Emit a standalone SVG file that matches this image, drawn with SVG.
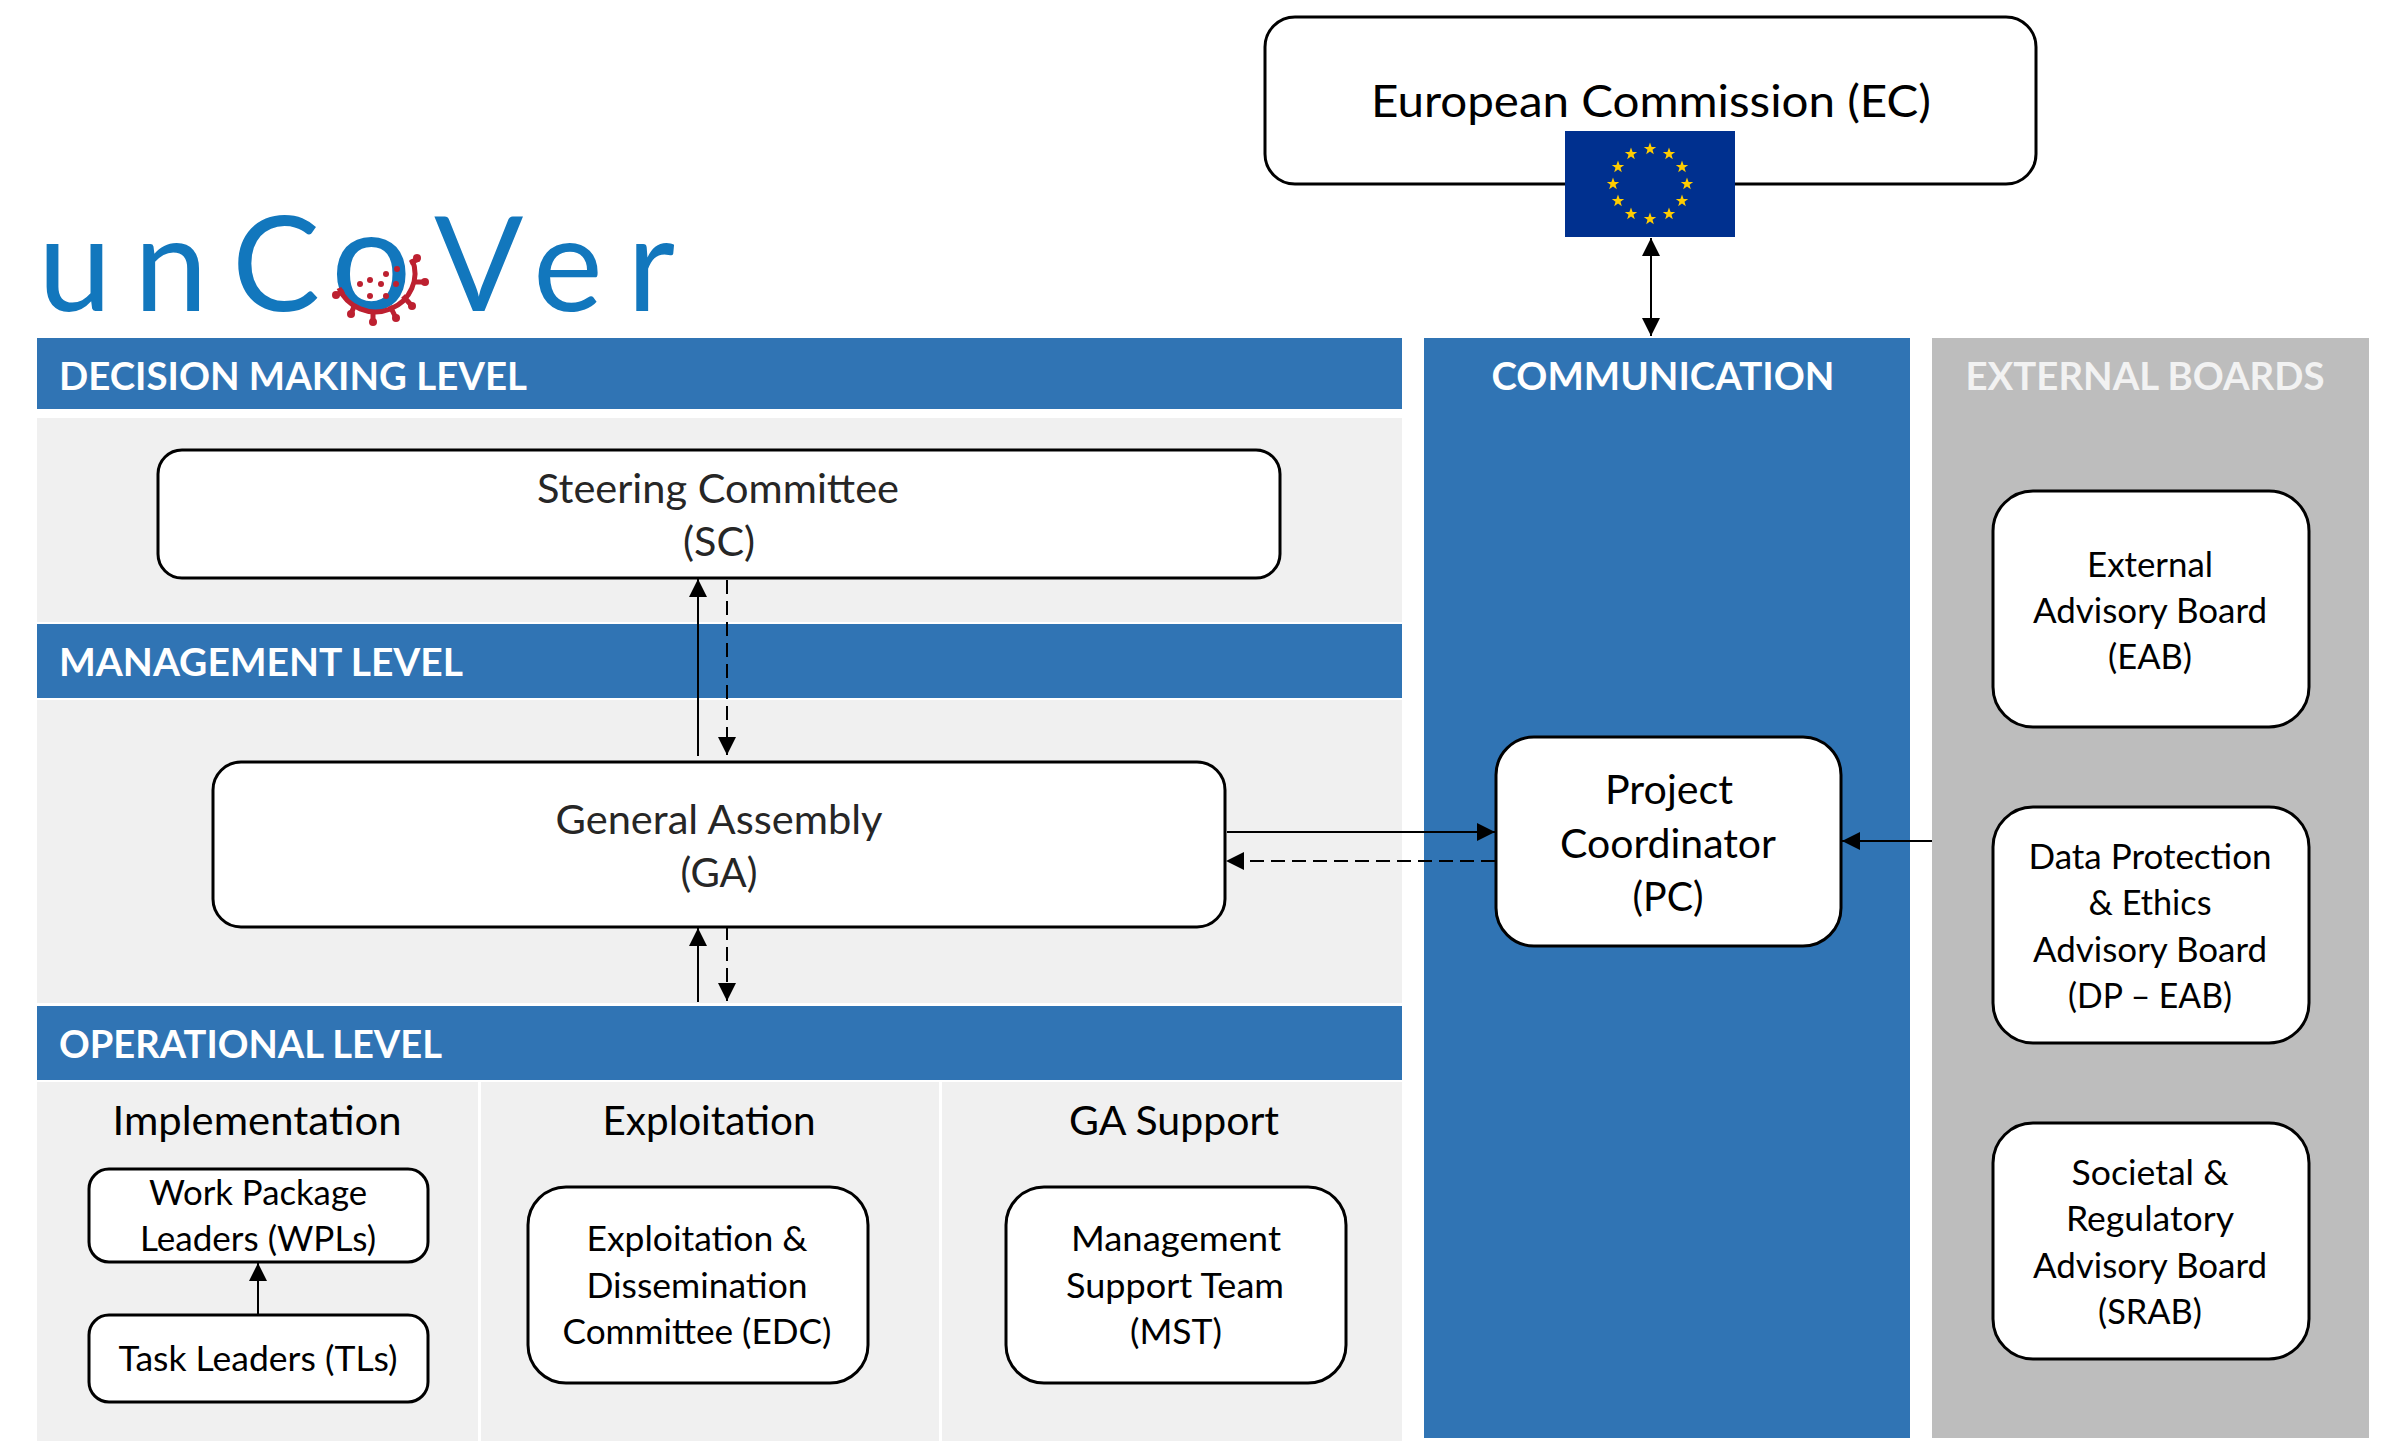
<svg xmlns="http://www.w3.org/2000/svg" xmlns:xlink="http://www.w3.org/1999/xlink" width="2381" height="1441" viewBox="0 0 2381 1441">
<style>
text{font-family:"Lato","Open Sans","Liberation Sans",sans-serif;text-anchor:middle;fill:#000}
.h{font-weight:700;font-size:38px;fill:#fff;text-anchor:start}
.hc{font-weight:700;font-size:38px;fill:#fff}
.t40{font-size:40px}.t36{font-size:35px}.dark{fill:#262626}
.box{fill:#fff;stroke:#000;stroke-width:3}
.blue{fill:#3074b4}.pale{fill:#f0f0f0}.grey{fill:#bdbdbd}
.c{fill:none;stroke:#000;stroke-width:2}
.d{stroke-dasharray:14 7}
.logo{font-size:132px;fill:#1277bd}
.vir{fill:none;stroke:#bd2030;stroke-width:5}
.dot{fill:#bd2030}
</style>
<defs>
<marker id="a" viewBox="0 0 18 18" refX="18" refY="9" markerWidth="18" markerHeight="18" markerUnits="userSpaceOnUse" orient="auto-start-reverse"><path d="M0 0L18 9L0 18z" fill="#000"/></marker>
<polygon id="s" points="0,-6.5 1.6,-2 6.2,-2 2.5,0.8 3.8,5.3 0,2.6 -3.8,5.3 -2.5,0.8 -6.2,-2 -1.6,-2" fill="#ffcc00"/>
</defs>
<rect width="2381" height="1441" fill="#fff"/>
<g id="panels">
<rect class="pale" x="37" y="418" width="1365" height="204"/>
<rect class="pale" x="37" y="700" width="1365" height="303"/>
<rect class="pale" x="37" y="1082" width="441" height="359"/>
<rect class="pale" x="481" y="1082" width="458" height="359"/>
<rect class="pale" x="942" y="1082" width="460" height="359"/>
<rect class="blue" x="37" y="338" width="1365" height="71"/>
<rect class="blue" x="37" y="624" width="1365" height="74"/>
<rect class="blue" x="37" y="1006" width="1365" height="74"/>
<rect class="blue" x="1424" y="338" width="486" height="1100"/>
<rect class="grey" x="1932" y="338" width="437" height="1100"/>
<text class="h" x="59" y="390" textLength="468" lengthAdjust="spacingAndGlyphs">DECISION MAKING LEVEL</text>
<text class="h" x="59" y="676" textLength="404" lengthAdjust="spacingAndGlyphs">MANAGEMENT LEVEL</text>
<text class="h" x="59" y="1058" textLength="383" lengthAdjust="spacingAndGlyphs">OPERATIONAL LEVEL</text>
<text class="hc" x="1663" y="390" textLength="343" lengthAdjust="spacingAndGlyphs">COMMUNICATION</text>
<text class="hc" x="2145" y="390" textLength="359" lengthAdjust="spacingAndGlyphs" style="fill:#f2f2f2">EXTERNAL BOARDS</text>
<text class="t40" x="257" y="1135" textLength="289" lengthAdjust="spacingAndGlyphs">Implementation</text>
<text class="t40" x="709" y="1135" textLength="213" lengthAdjust="spacingAndGlyphs">Exploitation</text>
<text class="t40" x="1174" y="1135" textLength="210" lengthAdjust="spacingAndGlyphs">GA Support</text>
</g>
<g id="logo">
<text class="logo" style="text-anchor:start" y="311"><tspan x="38 134 232">unC</tspan><tspan x="331" y="310" style="font-size:142px">o</tspan><tspan x="434 533 627" y="311">Ver</tspan></text>
<path class="vir" d="M339 288A37 36 0 0 0 412 259"/>
<path d="M410 263L419 259M412 282L425 282M403 296L412 306M390 306L396 318M373 310L373 322M355 304L351 314M344 291L336 295" class="vir"/>
<g class="dot"><circle cx="417" cy="258" r="4"/><circle cx="425" cy="282" r="4"/><circle cx="412" cy="306" r="4"/><circle cx="396" cy="318" r="4"/><circle cx="373" cy="322" r="4"/><circle cx="351" cy="314" r="4"/><circle cx="336" cy="295" r="4"/>
<circle cx="397" cy="269" r="3"/><circle cx="386" cy="274" r="3"/><circle cx="370" cy="280" r="3"/><circle cx="360" cy="284" r="3"/><circle cx="381" cy="284" r="3"/><circle cx="396" cy="284" r="3"/><circle cx="370" cy="296" r="3"/><circle cx="386" cy="296" r="3"/></g>
</g>
<g id="ec">
<rect class="box" x="1265" y="17" width="771" height="167" rx="30"/>
<text style="font-size:44px" x="1651" y="117" textLength="560" lengthAdjust="spacingAndGlyphs">European Commission (EC)</text>
<rect x="1565" y="131" width="170" height="106" fill="#00308f"/>
<g>
<use xlink:href="#s" x="1650" y="149"/><use xlink:href="#s" x="1669" y="154"/><use xlink:href="#s" x="1682" y="167"/><use xlink:href="#s" x="1687" y="184"/><use xlink:href="#s" x="1682" y="201"/><use xlink:href="#s" x="1669" y="214"/><use xlink:href="#s" x="1650" y="219"/><use xlink:href="#s" x="1631" y="214"/><use xlink:href="#s" x="1618" y="201"/><use xlink:href="#s" x="1613" y="184"/><use xlink:href="#s" x="1618" y="167"/><use xlink:href="#s" x="1631" y="154"/>
</g>
</g>
<g id="sc">
<rect class="box" x="158" y="450" width="1122" height="128" rx="24"/>
<text class="t40 dark" x="718" y="503" textLength="362" lengthAdjust="spacingAndGlyphs">Steering Committee</text>
<text class="t40 dark" x="719" y="556" textLength="72" lengthAdjust="spacingAndGlyphs">(SC)</text>
</g>
<g id="ga">
<rect class="box" x="213" y="762" width="1012" height="165" rx="28"/>
<text class="t40 dark" x="719" y="834" textLength="327" lengthAdjust="spacingAndGlyphs">General Assembly</text>
<text class="t40 dark" x="719" y="887" textLength="77" lengthAdjust="spacingAndGlyphs">(GA)</text>
</g>
<g id="pc">
<rect class="box" x="1496" y="737" width="345" height="209" rx="38"/>
<text class="t40" x="1669" y="804" textLength="128" lengthAdjust="spacingAndGlyphs">Project</text>
<text class="t40" x="1668" y="858" textLength="216" lengthAdjust="spacingAndGlyphs">Coordinator</text>
<text class="t40" x="1668" y="911" textLength="71" lengthAdjust="spacingAndGlyphs">(PC)</text>
</g>
<g id="eab">
<rect class="box" x="1993" y="491" width="316" height="236" rx="40"/>
<text class="t36" x="2150" y="577" textLength="126" lengthAdjust="spacingAndGlyphs">External</text>
<text class="t36" x="2150" y="623" textLength="234" lengthAdjust="spacingAndGlyphs">Advisory Board</text>
<text class="t36" x="2150" y="669" textLength="84" lengthAdjust="spacingAndGlyphs">(EAB)</text>
</g>
<g id="dpeab">
<rect class="box" x="1993" y="807" width="316" height="236" rx="40"/>
<text class="t36" x="2150" y="869" textLength="243" lengthAdjust="spacingAndGlyphs">Data Protection</text>
<text class="t36" x="2150" y="915" textLength="123" lengthAdjust="spacingAndGlyphs">&amp; Ethics</text>
<text class="t36" x="2150" y="962" textLength="234" lengthAdjust="spacingAndGlyphs">Advisory Board</text>
<text class="t36" x="2150" y="1008" textLength="164" lengthAdjust="spacingAndGlyphs">(DP – EAB)</text>
</g>
<g id="srab">
<rect class="box" x="1993" y="1123" width="316" height="236" rx="40"/>
<text class="t36" x="2150" y="1185" textLength="157" lengthAdjust="spacingAndGlyphs">Societal &amp;</text>
<text class="t36" x="2150" y="1231" textLength="168" lengthAdjust="spacingAndGlyphs">Regulatory</text>
<text class="t36" x="2150" y="1278" textLength="234" lengthAdjust="spacingAndGlyphs">Advisory Board</text>
<text class="t36" x="2150" y="1324" textLength="104" lengthAdjust="spacingAndGlyphs">(SRAB)</text>
</g>
<g id="wpl">
<rect class="box" x="89" y="1169" width="339" height="93" rx="20"/>
<text class="t36" x="258" y="1205" textLength="218" lengthAdjust="spacingAndGlyphs">Work Package</text>
<text class="t36" x="258" y="1251" textLength="236" lengthAdjust="spacingAndGlyphs">Leaders (WPLs)</text>
</g>
<g id="tl">
<rect class="box" x="89" y="1315" width="339" height="87" rx="20"/>
<text class="t36" x="258" y="1371" textLength="279" lengthAdjust="spacingAndGlyphs">Task Leaders (TLs)</text>
</g>
<g id="edc">
<rect class="box" x="528" y="1187" width="340" height="196" rx="38"/>
<text class="t36" x="697" y="1251" textLength="221" lengthAdjust="spacingAndGlyphs">Exploitation &amp;</text>
<text class="t36" x="697" y="1298" textLength="221" lengthAdjust="spacingAndGlyphs">Dissemination</text>
<text class="t36" x="697" y="1344" textLength="269" lengthAdjust="spacingAndGlyphs">Committee (EDC)</text>
</g>
<g id="mst">
<rect class="box" x="1006" y="1187" width="340" height="196" rx="38"/>
<text class="t36" x="1176" y="1251" textLength="210" lengthAdjust="spacingAndGlyphs">Management</text>
<text class="t36" x="1175" y="1298" textLength="218" lengthAdjust="spacingAndGlyphs">Support Team</text>
<text class="t36" x="1176" y="1344" textLength="92" lengthAdjust="spacingAndGlyphs">(MST)</text>
</g>
<g id="connectors">
<line class="c" x1="1651" y1="238" x2="1651" y2="336" marker-start="url(#a)" marker-end="url(#a)"/>
<line class="c" x1="698" y1="756" x2="698" y2="579" marker-end="url(#a)"/>
<line class="c d" x1="727" y1="580" x2="727" y2="755" marker-end="url(#a)"/>
<line class="c" x1="698" y1="1002" x2="698" y2="928" marker-end="url(#a)"/>
<line class="c d" x1="727" y1="926" x2="727" y2="1001" marker-end="url(#a)"/>
<line class="c" x1="1227" y1="832" x2="1495" y2="832" marker-end="url(#a)"/>
<line class="c d" x1="1495" y1="861" x2="1226" y2="861" marker-end="url(#a)"/>
<line class="c" x1="1932" y1="841" x2="1842" y2="841" marker-end="url(#a)"/>
<line class="c" x1="258" y1="1314" x2="258" y2="1263" marker-end="url(#a)"/>
</g>
</svg>
